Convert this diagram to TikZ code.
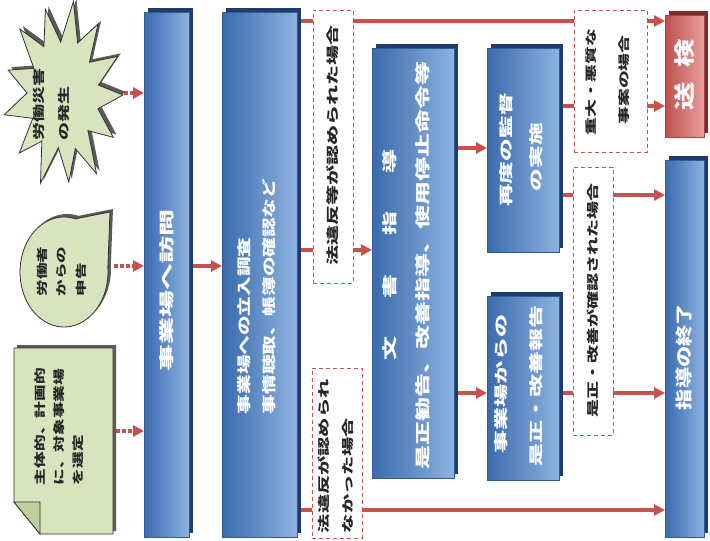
\documentclass[tikz,border=0pt]{standalone}
\usepackage{fontspec}
\usepackage{graphicx}
\newfontfamily\jp{Noto Sans CJK JP}
\usetikzlibrary{arrows.meta,backgrounds}
\definecolor{cred}{HTML}{C8504D}
\definecolor{bdark}{HTML}{3A6BAE}
\definecolor{blight}{HTML}{8DB2E0}
\definecolor{bshadow}{HTML}{1F3C6B}
\definecolor{rdark}{HTML}{C0504D}
\definecolor{rlight}{HTML}{E8A09D}
\definecolor{rshadow}{HTML}{7F2A28}
\definecolor{gfill}{HTML}{D7E4BD}
\definecolor{gfold}{HTML}{BFD09C}
\definecolor{gshadow}{HTML}{5A5A5A}
\newcommand\starshape[1]{\path[#1] ({63+60},95) \foreach \a/\r in {14/0.6,28/0.95,42/0.56,56/1.0,70/0.6,84/0.92,98/0.56,112/1.0,126/0.6,140/0.95,154/0.56,168/1.0,182/0.6,196/0.95,210/0.56,224/1.0,238/0.6,252/0.95,266/0.56,280/1.0,294/0.6,308/0.95,322/0.56,336/1.0,350/0.6} { -- ({63+60*\r*cos(\a)},{95+95*\r*sin(\a)}) } -- cycle;}
\newcommand\bubbleshape[1]{\path[#1] (110,212) \foreach \a in {-5,0,...,285} { -- ({64+44*cos(\a)},{272+55*sin(\a)}) } -- cycle;}
\newcommand\docshape[1]{\path[#1] (14,348) -- (113,348) -- (113,534) -- (40,534) -- (14,502) -- cycle;}
\newcommand\mkbox[7]{%
  \fill[#3] ({#4+4},{#5-4}) rectangle ({#6+4},{#7-4});
  \node[#2, anchor=north west, minimum width={#6-#4}, minimum height={#7-#5}] (#1) at (#4,#5) {};}
\newcommand\vtx[2]{\rotatebox{90}{\scalebox{#1}[1]{#2}}}
\tikzset{
  bluebox/.style={draw=bdark!85!black, line width=0.4pt, left color=bdark, right color=blight, inner sep=0pt, outer sep=0pt},
  redbox/.style={draw=rdark!85!black, line width=0.4pt, left color=rdark, right color=rlight, inner sep=0pt, outer sep=0pt},
  dbox/.style={draw=cred, line width=1pt, dash pattern=on 4pt off 3pt, fill=white, inner sep=0pt, outer sep=0pt},
  arr/.style={draw=cred, line width=3.4pt, -{Triangle[length=11pt,width=11pt]}},
  dotarr/.style={arr, dash pattern=on 3.5pt off 2.5pt},
  vt/.style={inner sep=0pt, outer sep=0pt, font=\jp\bfseries\fontsize{#1}{#1}\selectfont},
  wt/.style={text=white},
  kt/.style={text=black!85}
}
\begin{document}
\begin{tikzpicture}[x=1pt,y=-1pt]
\useasboundingbox (0,0) rectangle (710,541);
\begin{scope}[on background layer]
  \fill[white] (0,0) rectangle (710,541);
\end{scope}
% left shapes
\begin{scope}[shift={(3,-3)}]\starshape{fill=gshadow}\end{scope}
\starshape{fill=gfill, draw=black!80, line width=0.8pt}
\begin{scope}[shift={(3,-3)}]\bubbleshape{fill=gshadow}\end{scope}
\bubbleshape{fill=gfill, draw=black!80, line width=0.8pt}
\begin{scope}[shift={(3,-3)}]\docshape{fill=gshadow}\end{scope}
\docshape{fill=gfill, draw=black!80, line width=0.8pt}
\filldraw[fill=gfold, draw=black!80, line width=0.8pt] (14,502) -- (40,502) -- (40,534) -- cycle;
\coordinate (sA) at (100,93);
\coordinate (sB) at (114,266);
\coordinate (sC) at (116,431);
% y levels
\coordinate (y21) at (0,21);
\coordinate (y106) at (0,106);
\coordinate (y148) at (0,148);
\coordinate (y195) at (0,195);
\coordinate (y250) at (0,250);
\coordinate (y266) at (0,266);
\coordinate (y393) at (0,393);
\coordinate (y510) at (0,510);
% boxes
\mkbox{bar1}{bluebox}{bshadow}{144}{12}{189}{537}
\mkbox{bar2}{bluebox}{bshadow}{222}{12}{297}{537}
\mkbox{bunsho}{bluebox}{bshadow}{372}{48}{454}{478}
\mkbox{redo}{bluebox}{bshadow}{487}{48}{559}{252}
\mkbox{report}{bluebox}{bshadow}{487}{296}{559}{480}
\mkbox{soken}{redbox}{rshadow}{665}{15}{704}{137}
\mkbox{owari}{bluebox}{bshadow}{665}{160}{704}{537}
% connectors
\begin{scope}[on background layer]
  \draw[dotarr] (sA) -- (bar1.west |- sA);
  \draw[dotarr] (sB) -- (bar1.west |- sB);
  \draw[dotarr] (sC) -- (bar1.west |- sC);
  \draw[arr] (bar1.east |- y266) -- (bar2.west |- y266);
  \draw[arr] (bar2.east |- y21) -- (soken.west |- y21);
  \draw[arr] (bar2.east |- y250) -- (bunsho.west |- y250);
  \draw[arr] (bar2.east |- y510) -- (owari.west |- y510);
  \draw[arr] (bunsho.east |- y148) -- (redo.west |- y148);
  \draw[arr] (bunsho.east |- y393) -- (report.west |- y393);
  \draw[arr] (redo.east |- y106) -- (soken.west |- y106);
  \draw[arr] (redo.east |- y195) -- (owari.west |- y195);
  \draw[arr] (report.east |- y393) -- (owari.west |- y393);
\end{scope}
% dashed condition boxes
\node[dbox, anchor=north west, minimum width=40, minimum height=273] (d1) at (313,10) {};
\node[dbox, anchor=north west, minimum width=50, minimum height=170] (d2) at (312,368) {};
\node[dbox, anchor=north west, minimum width=73, minimum height=142] (d3) at (574,10) {};
\node[dbox, anchor=north west, minimum width=40, minimum height=268] (d4) at (573,167) {};
% texts: left shapes
\node[vt=12, kt, anchor=south] (ts1) at (39,140) {\vtx{1.5}{労働災害}};
\node[vt=12, kt, anchor=south] (ts2) at (64,140) {\vtx{1.5}{の発生}};
\node[vt=11, kt, anchor=south] (tb1) at (42,296) {\vtx{1.5}{労働者}};
\node[vt=11, kt, anchor=south] (tb2) at (62,296) {\vtx{1.5}{からの}};
\node[vt=11, kt, anchor=south] (tb3) at (81,296) {\vtx{1.5}{申告}};
\node[vt=11.5, kt, anchor=south] (td1) at (40,485) {\vtx{1.45}{主体的、計画的}};
\node[vt=11.5, kt, anchor=south] (td2) at (59,485) {\vtx{1.45}{に、対象事業場}};
\node[vt=11.5, kt, anchor=south] (td3) at (78,485) {\vtx{1.45}{を選定}};
% texts: blue boxes
\node[vt=15, wt] (tbar1) at (167,290) {\vtx{1.8}{事業場へ訪問}};
\node[vt=14, wt, anchor=south] (tbar2a) at (244,414) {\vtx{1.4}{事業場への立入調査}};
\node[vt=14, wt, anchor=south] (tbar2b) at (269,414) {\vtx{1.4}{事情聴取、帳簿の確認など}};
\node[vt=15, wt] (tbun1) at (390,255) {\vtx{1.6}{文\hspace{1.6em}書\hspace{1.6em}指\hspace{1.6em}導}};
\node[vt=15, wt] (tbun2) at (423,265) {\vtx{1.6}{是正勧告、改善指導、使用停止命令等}};
\node[vt=14, wt] (tre1) at (506,150) {\vtx{1.62}{再度の監督}};
\node[vt=14, wt] (tre2) at (536,157) {\vtx{1.62}{の実施}};
\node[vt=14, wt] (trp1) at (501,384) {\vtx{1.65}{事業場からの}};
\node[vt=14, wt] (trp2) at (536,386) {\vtx{1.65}{是正・改善報告}};
\node[vt=21, wt] (tsk) at (685,75) {\vtx{1.35}{送\hspace{0.5em}検}};
\node[vt=17, wt] (tow) at (684,357) {\vtx{1.25}{指導の終了}};
% texts: dashed boxes
\node[vt=12.5, kt] (td1t) at (333,145) {\vtx{1.6}{法違反等が認められた場合}};
\node[vt=12, kt, anchor=south] (td2a) at (324,533) {\vtx{1.6}{法違反が認められ}};
\node[vt=12, kt, anchor=south] (td2b) at (348,533) {\vtx{1.6}{なかった場合}};
\node[vt=11.5, kt] (td3a) at (591,82) {\vtx{1.55}{重大・悪質な}};
\node[vt=11.5, kt] (td3b) at (624,80) {\vtx{1.55}{事案の場合}};
\node[vt=12, kt] (td4t) at (593,300) {\vtx{1.5}{是正・改善が確認された場合}};
\end{tikzpicture}
\end{document}
